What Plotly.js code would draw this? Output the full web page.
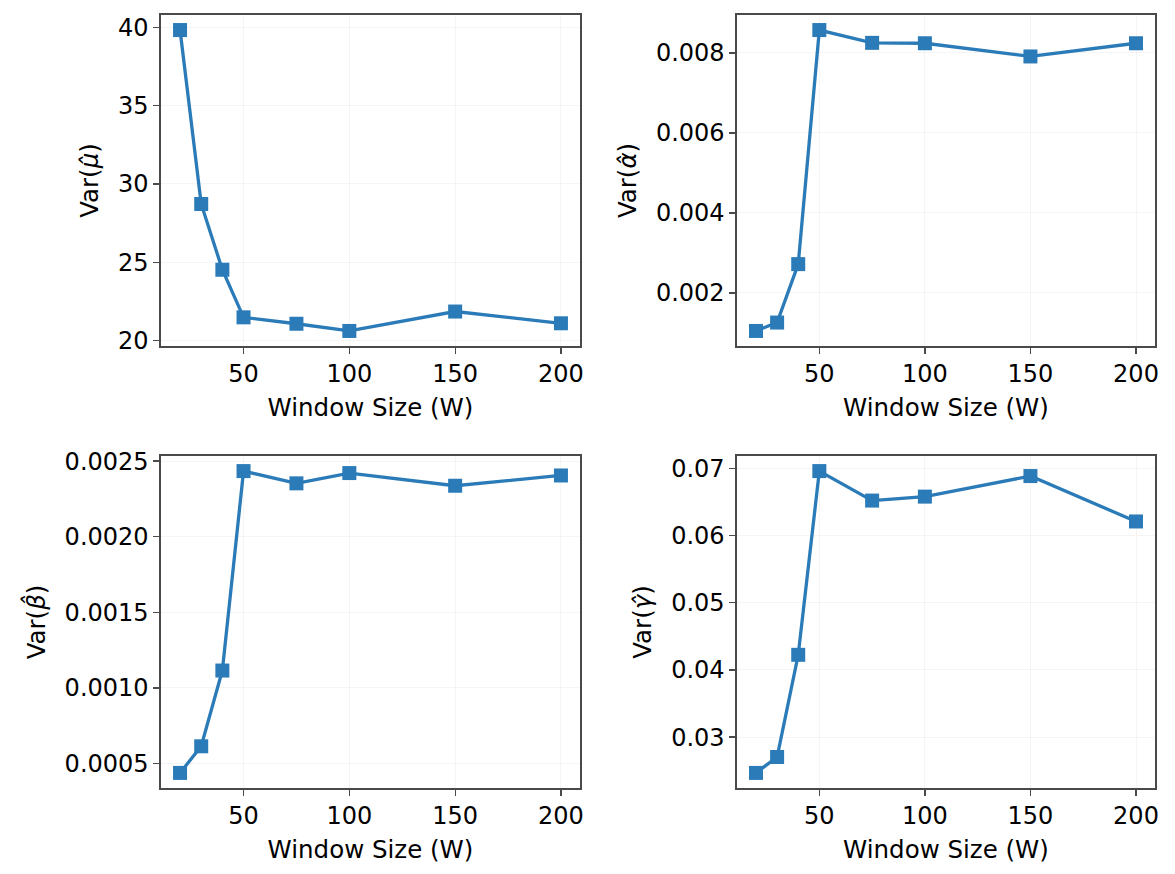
<!DOCTYPE html>
<html>
<head>
<meta charset="utf-8">
<script src="https://cdn.plot.ly/plotly-3.0.1.min.js"></script>
<style>
  html, body { margin: 0; padding: 0; background: #ffffff; }
  #chart { width: 1175px; height: 874px; }
</style>
</head>
<body>
<div id="chart"></div>
<script>
// Window sizes tested
const windowSizes = [20, 30, 40, 50, 75, 100, 150, 200];

// Variance of each estimated parameter per window size
const varMu    = [39.83, 28.72, 24.52, 21.48, 21.07, 20.61, 21.85, 21.10];
const varAlpha = [0.00105, 0.00126, 0.00272, 0.00857, 0.00825, 0.00824, 0.00791, 0.00824];
const varBeta  = [0.000438, 0.000614, 0.001115, 0.002434, 0.002353, 0.002421, 0.002337, 0.002405];
const varGamma = [0.02467, 0.02704, 0.04225, 0.0696, 0.06521, 0.0658, 0.06886, 0.0621];

// Axis labels
const yLabels = [
  'Var(<i>\u03bc\u0302</i>)',
  'Var(<i>\u03b1\u0302</i>)',
  'Var(<i>\u03b2\u0302</i>)',
  'Var(<i>\u03b3\u0302</i>)'
];
const xLabel = 'Window Size (W)';
const yTickFormats = ['.0f', '.3f', '.4f', '.2f'];
const yTickSteps = [5, 0.002, 0.0005, 0.01];

const series = [varMu, varAlpha, varBeta, varGamma];

const LINE_BLUE = '#2a7bb8';
const SPINE = '#4a4a4a';
const FONT = 'DejaVu Sans, sans-serif';
const TICK_SIZE = 24;
const TITLE_SIZE = 24.5;

// pad a data range by 5% on both sides
function padded(vals) {
  const lo = Math.min(...vals), hi = Math.max(...vals);
  const p = 0.05 * (hi - lo);
  return [lo - p, hi + p];
}

const W = 1175, H = 874;
// panel boxes in pixels: [left, right, top, bottom]
const boxes = [
  [161, 580, 15, 346],
  [737, 1155, 15, 346],
  [161, 580, 456, 788],
  [737, 1155, 456, 788]
];

const traces = [];
const layout = {
  width: W, height: H,
  margin: { l: 0, r: 0, t: 0, b: 0 },
  paper_bgcolor: '#ffffff',
  plot_bgcolor: '#ffffff',
  showlegend: false,
  font: { family: FONT, color: '#000000', size: TICK_SIZE }
};

series.forEach((vals, i) => {
  const n = i === 0 ? '' : String(i + 1);
  traces.push({
    x: windowSizes,
    y: vals,
    type: 'scatter',
    mode: 'lines+markers',
    xaxis: 'x' + n,
    yaxis: 'y' + n,
    line: { color: LINE_BLUE, width: 3.3 },
    marker: { symbol: 'square', size: 14, color: LINE_BLUE },
    hoverinfo: 'x+y'
  });

  const b = boxes[i];
  const common = {
    showline: true, mirror: true, linecolor: SPINE, linewidth: 1.6,
    ticks: 'outside', ticklen: 6, tickwidth: 1.3, tickcolor: SPINE,
    showgrid: true, gridcolor: 'rgba(0,0,0,0.04)', gridwidth: 1,
    zeroline: false,
    tickfont: { family: FONT, size: TICK_SIZE, color: '#000000' }
  };

  layout['xaxis' + n] = Object.assign({}, common, {
    domain: [b[0] / W, b[1] / W],
    anchor: 'y' + n,
    range: padded(windowSizes),
    tick0: 0, dtick: 50,
    title: { text: xLabel, font: { family: FONT, size: TITLE_SIZE, color: '#000000' }, standoff: 11 }
  });

  layout['yaxis' + n] = Object.assign({}, common, {
    domain: [1 - b[3] / H, 1 - b[2] / H],
    anchor: 'x' + n,
    range: padded(vals),
    tick0: 0, dtick: yTickSteps[i],
    tickformat: yTickFormats[i],
    title: { text: yLabels[i], font: { family: FONT, size: TITLE_SIZE, color: '#000000' }, standoff: 12 }
  });
});

Plotly.newPlot('chart', traces, layout, { displayModeBar: false, staticPlot: true });
</script>
</body>
</html>
